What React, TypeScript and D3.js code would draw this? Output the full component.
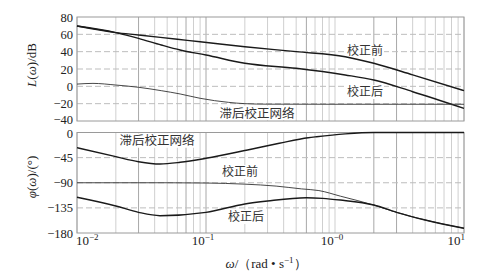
import React from "react";
import * as d3 from "d3";

// ---------- data ----------
const magOmega = [0.01, 0.02, 0.03, 0.06, 0.09, 0.2, 0.5, 1.2, 2, 4, 10];
const magBefore = [69.6, 62, 59.3, 54.3, 51.5, 45.7, 40, 34.2, 26.6, 13.2, -5];

const magAfterOmega = [0.01, 0.02, 0.03, 0.045, 0.063, 0.1, 0.2, 0.5, 1.2, 2, 4, 10];
const magAfter = [69.6, 62, 55.4, 47.7, 41.9, 36.2, 26.6, 20.8, 13.1, 7.3, -6.2, -25.4];

const lagMagOmega = [0.01, 0.0133, 0.02, 0.03, 0.045, 0.063, 0.09, 0.15, 0.2, 0.3, 1, 10];
const lagMag = [2.6, 3.4, 1.5, -1.1, -5, -8.8, -13.8, -18.5, -20, -20.6, -20.7, -20.7];

const lagPhOmega = [0.01, 0.02, 0.03, 0.044, 0.063, 0.1, 0.21, 0.37, 0.62, 0.72, 1.2, 2, 10];
const lagPhase = [-27.2, -43.3, -52.3, -56.4, -53.4, -46.2, -31.3, -19.3, -9.3, -7.5, -2.5, 0, 0];

const phBeforeOmega = [0.01, 0.05, 0.1, 0.2, 0.35, 0.55, 0.75, 1.1, 2, 3, 5, 10];
const phBefore = [-90, -90, -90.5, -92.5, -96, -101, -104, -114, -130, -143, -156.7, -171.6];

const phAfterOmega = [0.01, 0.02, 0.03, 0.044, 0.1, 0.2, 0.3, 0.6, 0.8, 1.1, 2, 3, 5, 10];
const phAfter = [-116, -131.6, -143, -149, -143, -128, -122.7, -116.8, -117.9, -121, -129.9, -143, -156.7, -171.6];

const magTicks = [80, 60, 40, 20, 0, -20, -40];
const phTicks = [0, -45, -90, -135, -180];
const xTickExp = ["−2", "−1", "−0", "1"];
const xTickVals = [0.01, 0.1, 1, 10];

const labels = {
  before: "校正前",
  after: "校正后",
  lag: "滞后校正网络",
};

// ---------- layout ----------
const W = 495;
const H = 276;
const L = 77;
const R = 464;
const magTop = 17;
const magBot = 121;
const phTop = 132.5;
const phBot = 233;

const serif = "'Liberation Serif', 'DejaVu Serif', serif";
const cjk = "'Noto Sans CJK SC', 'Noto Sans', sans-serif";

type Lab = { text: string; cx: number; cy: number; fs: number };

export default function App() {
  const x = d3.scaleLog().domain([0.01, 10]).range([L, R]);
  const yM = d3.scaleLinear().domain([-40, 80]).range([magBot, magTop]);
  const yP = d3.scaleLinear().domain([-180, 0]).range([phBot, phTop]);

  const minor: number[] = [];
  for (let e = -2; e < 1; e++) {
    for (let k = 1; k <= 9; k++) minor.push(k * Math.pow(10, e));
  }
  minor.push(10);
  const darker = new Set([0.03, 0.07, 0.1, 0.6, 2, 3]);

  const mkLine = (y: d3.ScaleLinear<number, number>) =>
    d3
      .line<[number, number]>()
      .x((d) => x(d[0]))
      .y((d) => y(d[1]))
      .curve(d3.curveMonotoneX);

  const lm = mkLine(yM);
  const lp = mkLine(yP);
  const zip = (a: number[], b: number[]) => a.map((v, i) => [v, b[i]] as [number, number]);

  const vGrid = (top: number, bot: number, key: string) =>
    minor.map((v, i) => {
      const isDark = darker.has(Math.round(v * 1000) / 1000);
      return (
        <line
          key={key + i}
          x1={x(v)}
          x2={x(v)}
          y1={top}
          y2={bot}
          stroke={isDark ? "#a8a8a8" : "#cfcfcf"}
          strokeWidth={1}
        />
      );
    });

  const labs: Lab[] = [
    { text: labels.before, cx: 365, cy: 51, fs: 12 },
    { text: labels.after, cx: 365, cy: 92, fs: 12 },
    { text: labels.lag, cx: 257, cy: 113, fs: 12.5 },
    { text: labels.lag, cx: 157, cy: 140.5, fs: 12.5 },
    { text: labels.before, cx: 240, cy: 172, fs: 12 },
    { text: labels.after, cx: 246, cy: 217, fs: 12 },
  ];

  const fmt = (t: number) => (t < 0 ? "−" + Math.abs(t) : String(t));

  return (
    <svg
      width={W}
      height={H}
      viewBox={`0 0 ${W} ${H}`}
      style={{ position: "absolute", left: 0, top: 0, background: "#fff" }}
    >
      {/* grids */}
      {vGrid(magTop, magBot, "vm")}
      {vGrid(phTop, phBot, "vp")}
      {magTicks
        .filter((t) => t !== 80 && t !== -40)
        .map((t) => (
          <line
            key={"hm" + t}
            x1={L}
            x2={R}
            y1={yM(t)}
            y2={yM(t)}
            stroke="#bdbdbd"
            strokeDasharray="6,3"
            strokeWidth={1}
          />
        ))}
      {phTicks
        .filter((t) => t !== 0 && t !== -180)
        .map((t) => (
          <line
            key={"hp" + t}
            x1={L}
            x2={R}
            y1={yP(t)}
            y2={yP(t)}
            stroke="#bdbdbd"
            strokeDasharray="6,3"
            strokeWidth={1}
          />
        ))}

      {/* label backgrounds (under curves) */}
      {labs.map((d, i) => {
        const w = d.text.length * d.fs + 2;
        return (
          <rect
            key={"lb" + i}
            x={d.cx - w / 2}
            y={d.cy - d.fs / 2 - 1}
            width={w}
            height={d.fs + 2}
            fill="#fff"
          />
        );
      })}

      {/* frames */}
      <rect x={L} y={magTop} width={R - L} height={magBot - magTop} fill="none" stroke="#9a9a9a" strokeWidth={1} />
      <rect x={L} y={phTop} width={R - L} height={phBot - phTop} fill="none" stroke="#9a9a9a" strokeWidth={1} />

      {/* magnitude curves */}
      <path d={lm(zip(magOmega, magBefore)) || ""} fill="none" stroke="#1a1a1a" strokeWidth={1.4} />
      <path d={lm(zip(magAfterOmega, magAfter)) || ""} fill="none" stroke="#1a1a1a" strokeWidth={1.4} />
      <path d={lm(zip(lagMagOmega, lagMag)) || ""} fill="none" stroke="#333" strokeWidth={0.9} />

      {/* phase curves */}
      <path d={lp(zip(lagPhOmega, lagPhase)) || ""} fill="none" stroke="#1a1a1a" strokeWidth={1.4} />
      <path d={lp(zip(phBeforeOmega, phBefore)) || ""} fill="none" stroke="#333" strokeWidth={0.9} />
      <path d={lp(zip(phAfterOmega, phAfter)) || ""} fill="none" stroke="#1a1a1a" strokeWidth={1.4} />

      {/* curve labels */}
      {labs.map((d, i) => (
        <text
          key={"lt" + i}
          x={d.cx}
          y={d.cy + d.fs * 0.36}
          textAnchor="middle"
          fontFamily={cjk}
          fontSize={d.fs}
          fill="#333"
        >
          {d.text}
        </text>
      ))}

      {/* y tick labels */}
      {magTicks.map((t) => (
        <text
          key={"tm" + t}
          x={73}
          y={t === -40 ? yM(t) + 3 : yM(t) + 4.5}
          textAnchor="end"
          fontFamily={serif}
          fontSize={12.5}
          fill="#222"
        >
          {fmt(t)}
        </text>
      ))}
      {phTicks.map((t) => (
        <text
          key={"tp" + t}
          x={73}
          y={t === 0 ? yP(t) + 5.5 : yP(t) + 4.5}
          textAnchor="end"
          fontFamily={serif}
          fontSize={12.5}
          fill="#222"
        >
          {fmt(t)}
        </text>
      ))}

      {/* x tick labels */}
      {xTickVals.map((v, i) => {
        const anchor = i === 0 ? "start" : i === xTickVals.length - 1 ? "end" : "middle";
        const px = i === 0 ? x(v) - 1 : i === xTickVals.length - 1 ? x(v) + 1 : x(v) - 3;
        return (
          <text
            key={"tx" + i}
            x={px}
            y={245}
            textAnchor={anchor}
            fontFamily={serif}
            fontSize={13}
            fill="#222"
          >
            10
            <tspan dy={-5} fontSize={9}>
              {xTickExp[i]}
            </tspan>
          </text>
        );
      })}

      {/* axis titles */}
      <text
        x={266}
        y={268}
        textAnchor="middle"
        fontFamily={serif}
        fontSize={13}
        fill="#222"
      >
        <tspan fontStyle="italic">ω</tspan>
        <tspan>/（rad • s</tspan>
        <tspan dy={-5} fontSize={9}>−1</tspan>
        <tspan dy={5}>）</tspan>
      </text>
      <text
        transform={`translate(36,65) rotate(-90)`}
        textAnchor="middle"
        fontFamily={serif}
        fontSize={13}
        fill="#222"
      >
        <tspan fontStyle="italic">L</tspan>
        <tspan>(</tspan>
        <tspan fontStyle="italic">ω</tspan>
        <tspan>)/dB</tspan>
      </text>
      <text
        transform={`translate(36,177) rotate(-90)`}
        textAnchor="middle"
        fontFamily={serif}
        fontSize={13}
        fill="#222"
      >
        <tspan fontStyle="italic">φ</tspan>
        <tspan>(</tspan>
        <tspan fontStyle="italic">ω</tspan>
        <tspan>)/(°)</tspan>
      </text>
    </svg>
  );
}
